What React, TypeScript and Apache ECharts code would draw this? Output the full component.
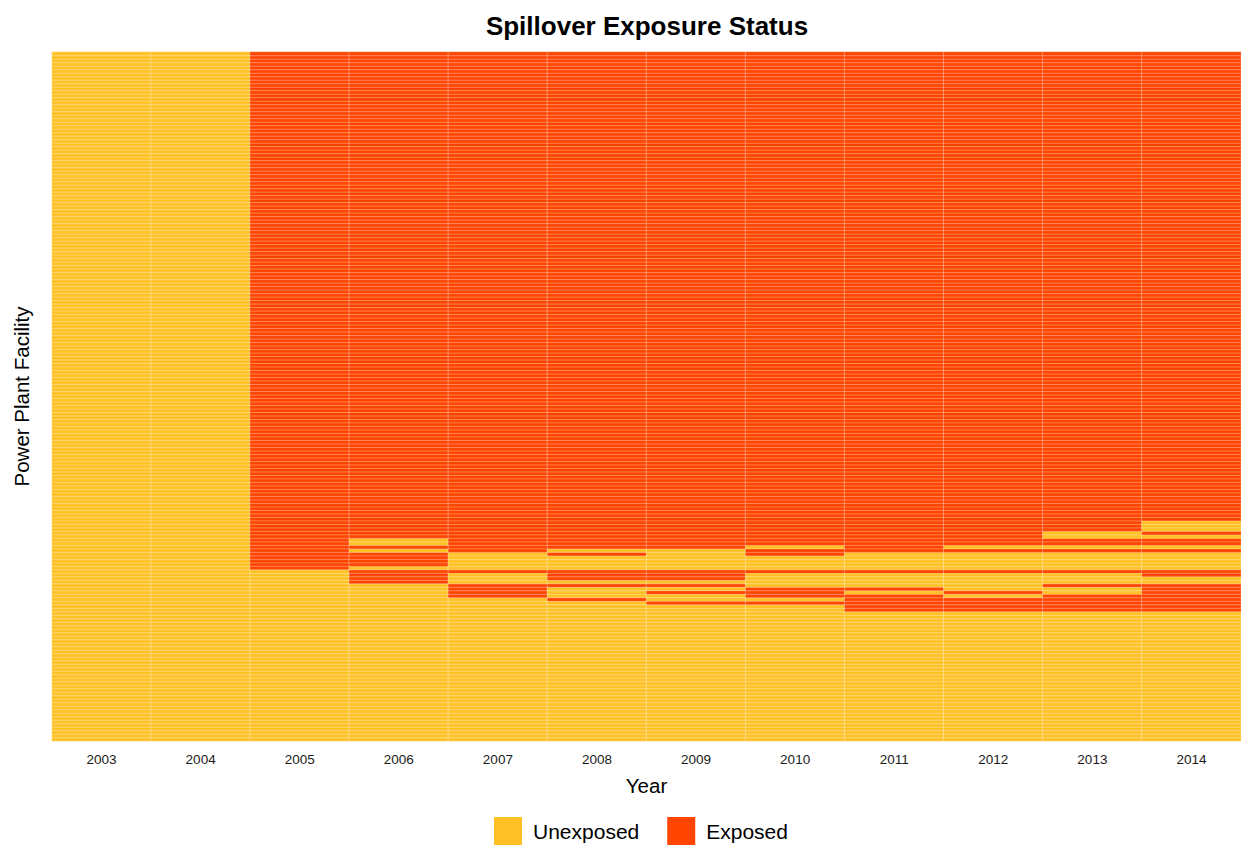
import React, { useEffect, useRef } from "react";
import * as echarts from "echarts";

const years = ["2003", "2004", "2005", "2006", "2007", "2008", "2009", "2010", "2011", "2012", "2013", "2014"];
const facilityCount = 197;
const statusLabels = ["Unexposed", "Exposed"];
const statusColors = ["#FFC125", "#FF4500"];

// Exposed facility index ranges (inclusive), facility 0 at the bottom
const exposed2003: number[][] = [];
const exposed2004: number[][] = [];
const exposed2005 = [[49, 196]];
const exposed2006 = [[45, 48], [50, 53], [55, 55], [58, 196]];
const exposed2007 = [[41, 44], [48, 48], [54, 196]];
const exposed2008 = [[40, 40], [44, 44], [46, 48], [53, 53], [55, 196]];
const exposed2009 = [[39, 39], [42, 42], [44, 44], [46, 48], [55, 196]];
const exposed2010 = [[39, 39], [41, 43], [48, 48], [53, 54], [56, 196]];
const exposed2011 = [[37, 41], [43, 43], [48, 48], [54, 196]];
const exposed2012 = [[37, 40], [42, 42], [48, 48], [54, 54], [56, 196]];
const exposed2013 = [[37, 41], [44, 44], [48, 48], [54, 54], [56, 57], [60, 196]];
const exposed2014 = [[37, 44], [47, 48], [54, 54], [56, 57], [59, 59], [63, 196]];

const exposedByYear = [
  exposed2003, exposed2004, exposed2005, exposed2006, exposed2007, exposed2008,
  exposed2009, exposed2010, exposed2011, exposed2012, exposed2013, exposed2014,
];

export default function App() {
  const ref = useRef<HTMLDivElement>(null);
  useEffect(() => {
    if (!ref.current) return;
    const chart = echarts.init(ref.current, undefined, { renderer: "svg" });
    const facilities = Array.from({ length: facilityCount }, (_, i) => String(i + 1));
    const cells: number[][] = [];
    exposedByYear.forEach((ranges, xi) => {
      for (let r = 0; r < facilityCount; r++) {
        const isExp = ranges.some(([a, b]) => r >= a && r <= b);
        cells.push([xi, r, isExp ? 1 : 0]);
      }
    });
    chart.setOption({
      animation: false,
      textStyle: { fontFamily: "Liberation Sans" },
      title: {
        text: "Spillover Exposure Status",
        left: 642,
        textAlign: "center",
        top: 8,
        textStyle: { fontSize: 26, fontWeight: "bold", color: "#000", fontFamily: "Liberation Sans" },
      },
      grid: { left: 52, right: 0, top: 52, bottom: 109, containLabel: false },
      xAxis: {
        type: "category",
        data: years,
        name: "Year",
        nameLocation: "middle",
        nameGap: 34,
        nameTextStyle: { fontSize: 20.5, color: "#000" },
        axisLine: { show: false },
        axisTick: { show: false },
        axisLabel: { fontSize: 13.5, color: "#1a1a1a", margin: 11 },
        splitLine: { show: false },
      },
      yAxis: {
        type: "category",
        data: facilities,
        name: "Power Plant Facility",
        nameLocation: "middle",
        nameGap: 20,
        nameTextStyle: { fontSize: 20.5, color: "#000" },
        axisLine: { show: false },
        axisTick: { show: false },
        axisLabel: { show: false },
        splitLine: { show: false },
      },
      visualMap: {
        type: "piecewise",
        dimension: 2,
        orient: "horizontal",
        left: 494,
        top: 817,
        padding: 0,
        itemWidth: 28,
        itemHeight: 28,
        itemGap: 28,
        itemSymbol: "rect",
        textGap: 11,
        selectedMode: false,
        pieces: [
          { value: 0, label: statusLabels[0], color: statusColors[0] },
          { value: 1, label: statusLabels[1], color: statusColors[1] },
        ],
        textStyle: { fontSize: 21, color: "#000" },
      },
      series: [
        {
          type: "heatmap",
          data: cells,
          itemStyle: { borderColor: "rgba(255,255,255,0.6)", borderWidth: 0.5 },
          emphasis: { disabled: true },
        },
      ],
    });
    return () => chart.dispose();
  }, []);
  return (
    <div
      ref={ref}
      style={{ position: "fixed", left: 0, top: 0, width: 1241, height: 850, background: "#fff" }}
    />
  );
}
